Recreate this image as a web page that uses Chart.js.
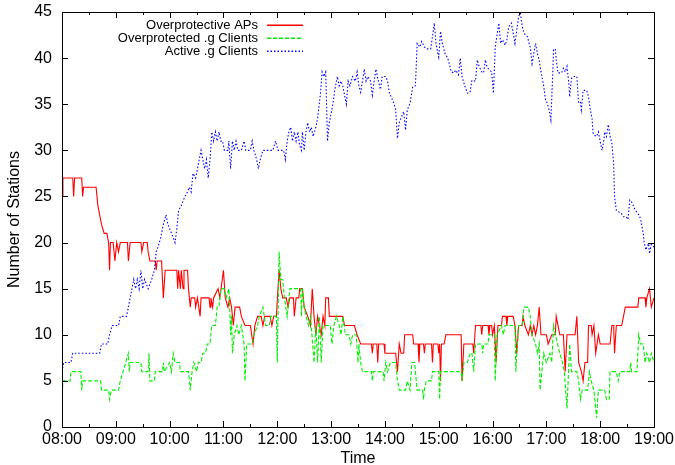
<!DOCTYPE html>
<html>
<head>
<meta charset="utf-8">
<title>Number of Stations</title>
<script src="https://cdn.jsdelivr.net/npm/chart.js@4/dist/chart.umd.min.js"></script>
<style>
  html, body { margin: 0; padding: 0; background: #ffffff; }
  #wrap { width: 675px; height: 465px; }
</style>
</head>
<body>
<div id="wrap"><canvas id="chart" width="675" height="465"></canvas></div>
<script>
// Time axis: minutes after 08:00, one tick per hour
const hourTicks = ['08:00','09:00','10:00','11:00','12:00','13:00','14:00','15:00','16:00','17:00','18:00','19:00'];

// Overprotective APs
const apMinutes = [
  0,1,12,13,14,22,23,24,38,40,
  44,47,50,52,53,54,57,59,61,63,
  65,73,74,76,88,89,91,95,96,98,
  104,105,106,111,113,115,128,129,130,132,
  133,135,136,140,141,143,144,148,149,151,
  154,155,164,165,166,168,169,174,176,180,
  182,185,187,189,191,193,198,200,204,210,
  213,215,218,222,224,226,232,234,236,239,
  242,244,246,250,252,254,258,259,261,264,
  265,268,270,274,277,279,281,283,285,287,
  289,291,293,294,297,298,313,315,326,329,
  333,345,346,347,351,352,353,359,360,372,
  374,376,378,381,382,391,392,394,397,398,
  399,403,404,405,412,413,414,419,420,421,
  422,423,426,428,445,446,448,458,459,461,
  467,468,469,475,476,477,479,480,482,484,
  486,490,491,495,496,497,503,505,507,509,
  513,514,516,520,522,524,526,528,530,532,
  534,540,542,546,550,551,553,555,559,561,
  563,572,574,576,579,581,583,586,587,590,
  591,593,595,598,600,611,613,615,616,618,
  624,626,628,642,643,650,651,652,655,657,
  660
];
const apCounts = [
  25,27,27,25,27,27,25,26,26,24,
  22,21,21,20,17,20,20,18,20,19,
  20,20,18,20,20,19,20,20,19,18,
  18,17,18,18,14,17,17,15,17,15,
  17,15,17,17,15,13,14,14,13,14,
  12,14,14,13,14,13,14,15,14,17,
  14,13,14,13,11,13,13,12,11,11,
  9,11,12,12,11,12,12,11,12,12,
  17,15,14,14,13,14,14,12,14,14,
  15,15,13,12,11,15,12,10,12,11,
  10,12,11,14,14,12,12,11,11,10,
  9,9,8,9,9,7,9,9,8,8,
  6,9,8,8,10,10,9,9,9,7,
  9,9,8,9,9,7,9,9,8,9,
  5,9,9,10,10,5,9,9,8,11,
  11,10,11,11,10,11,11,10,11,7,
  11,11,12,12,11,12,12,11,8,11,
  11,12,11,10,11,10,11,10,11,13,
  10,10,9,10,10,12,11,10,10,6,
  10,10,12,7,6,5,7,7,11,11,
  10,11,8,10,9,9,11,11,8,11,
  11,12,13,13,14,14,13,14,15,13,
  14
];

// Overprotected .g Clients
const protMinutes = [
  0,1,9,10,21,22,23,43,44,52,
  53,55,63,65,68,71,74,75,76,88,
  89,96,97,98,103,104,112,113,114,120,
  122,124,126,131,132,141,143,145,147,150,
  152,155,157,160,162,165,167,171,173,175,
  177,181,183,186,187,188,189,190,192,195,
  197,200,203,204,206,212,214,218,220,224,
  227,231,233,239,240,242,244,246,248,251,
  253,254,266,267,268,270,272,275,277,281,
  283,285,287,289,291,295,299,301,303,306,
  309,311,313,316,320,322,324,328,330,331,
  333,335,345,346,347,358,359,360,361,363,
  366,372,374,376,383,385,388,390,393,394,
  396,402,403,404,406,412,413,420,421,422,
  445,446,448,452,455,457,459,461,468,469,
  470,475,476,482,483,485,490,492,494,505,
  506,507,509,513,515,520,522,524,528,530,
  532,533,535,537,540,544,546,548,550,555,
  558,560,563,566,568,574,576,578,580,586,
  588,590,593,596,598,605,607,610,611,618,
  620,622,633,634,635,641,643,645,648,650,
  652,655,657,660
];
const protCounts = [
  3,5,5,6,6,4,5,5,4,4,
  3,4,4,5,6,7,8,6,7,7,
  6,6,8,5,5,6,6,7,6,7,
  6,8,7,7,6,6,4,6,7,6,
  7,7,8,8,9,9,11,11,13,13,
  15,15,14,15,13,10,12,8,10,11,
  10,11,9,5,9,9,10,11,12,13,
  11,11,12,12,7,19,16,16,14,12,
  14,15,15,12,15,13,12,11,12,7,
  11,7,12,7,11,11,11,9,11,12,
  11,10,12,10,10,9,10,10,7,9,
  7,6,6,5,6,6,5,6,7,6,
  7,7,5,4,4,5,4,7,7,6,
  4,4,3,4,5,5,6,6,3,6,
  6,5,7,7,8,8,6,9,9,8,
  9,9,10,10,5,10,11,10,11,11,
  6,8,11,11,13,13,12,10,9,8,
  9,4,6,8,7,8,7,11,10,8,
  7,6,2,9,6,6,5,3,4,4,
  6,5,4,1,4,4,3,3,6,6,
  5,6,6,7,6,6,10,9,9,7,
  8,7,8,7
];

// Active .g Clients
const activeMinutes = [
  0,2,10,12,42,44,51,53,56,63,
  65,72,74,76,78,80,82,84,86,88,
  90,92,96,100,103,105,107,110,113,116,
  118,120,122,124,126,128,130,133,135,137,
  140,142,144,146,149,151,153,155,157,159,
  161,163,165,167,169,171,173,175,177,179,
  181,185,186,188,190,192,194,196,200,203,
  205,210,212,214,217,219,221,224,228,232,
  235,238,241,244,247,249,251,253,255,257,
  259,261,263,265,267,268,270,272,274,276,
  278,280,283,285,288,290,292,294,296,298,
  300,302,304,307,309,311,313,315,317,319,
  321,324,327,329,331,333,335,337,339,341,
  344,346,348,350,352,355,357,361,363,365,
  367,370,372,374,376,378,381,383,385,388,
  391,394,396,399,401,404,407,411,413,415,
  417,419,420,422,424,427,430,432,434,437,
  439,442,444,446,449,452,455,457,461,463,
  465,468,470,472,474,477,479,481,483,485,
  487,489,491,494,496,498,501,503,505,507,
  509,511,513,515,517,519,521,522,524,526,
  528,530,532,533,535,537,539,541,543,545,
  547,548,550,551,553,557,559,561,563,565,
  566,568,570,574,576,578,579,581,585,587,
  589,591,592,594,596,598,600,602,604,605,
  607,609,611,613,615,616,618,621,624,626,
  629,631,633,635,637,639,641,643,645,646,
  648,649,651,652,654,655,657,660
];
const activeCounts = [
  6,7,7,8,8,9,9,10,11,11,
  12,12,13,14,15,16,15,16,15,17,
  15,16,15,16,17,19,19.5,20.5,22,23,
  22,21.5,21,20.5,20,21.5,23.5,24,24.5,25,
  25.5,26,25.5,27.5,27,28,29,30,29,28,
  29,27,29,32,31,32,31,32,31,31,
  30,30,31,28,31,30,31,30,30,31,
  30,30,31,30,29,28,29,30,30,30,
  30,31,30,30,30,29,31,32,32.5,31,
  32,31,32,30.5,30,32,30,32,33,32,
  32.5,31.5,32.5,33.5,36,38.5,38,38.5,31,33,
  34,35,36.5,38,37,37.5,37,36,35,37.5,
  37,38,37.5,38.5,37,36.3,37.5,38.8,37.5,38,
  37.5,36,37.5,38.8,37.8,36.6,38,38,37.5,36.2,
  35.8,35.1,34.4,31.3,33,33.5,34.2,32.2,34.4,35.1,
  36.9,37,41.6,41.2,41.8,41.2,41,41,42.3,43.8,
  41.6,40.5,40.1,42.9,41.6,40.5,40,39.3,38.5,38.4,
  38.7,38.2,40,38,37,36.2,36.3,37.6,37.5,39.8,
  39.1,38.5,38.4,39.8,39,38.7,38.5,36.2,41.2,42.5,
  43.8,41.6,42,41.4,42,43.4,43.8,42.7,41.6,43,
  44.5,44.9,43.5,42.7,42.5,42.3,41.5,41.2,39.4,40.5,
  41.6,40.5,39.8,39.1,38,37,35.5,35.1,34.4,33.3,
  38,40.9,41,39.8,38.4,38.4,38.9,38.5,39.1,37.3,
  35.8,37.8,38,38,35.1,35.2,34.4,36.5,36.5,35.8,
  34.4,33.4,31.9,31.6,31.5,32,31,30,31,32,
  31.5,32.8,31.5,30.8,28.6,25,23.5,23.3,23.1,22.8,
  22.8,22.5,24.6,24.4,24,23.5,23.3,23,22.6,22,
  21,20,19.2,19.5,19.9,18.8,19.8,19.5
];

const seriesNames = ['Overprotective APs', 'Overprotected .g Clients', 'Active .g Clients'];
const seriesColors = ['#ff0000', '#00ee00', '#0000ff'];
const seriesDashes = [[], [4, 2], [1.5, 2]];

function toPoints(xs, ys) {
  return xs.map((x, i) => ({ x: x, y: ys[i] }));
}

const FONT = '"Liberation Sans", Arial, Helvetica, sans-serif';

// Frame, inward tick marks (mirrored on all four sides) and the key box
const framePlugin = {
  id: 'frameAndKey',
  afterDatasetsDraw(chart) {
    const ctx = chart.ctx;
    const a = chart.chartArea;
    const xs = chart.scales.x;
    const ys = chart.scales.y;
    ctx.save();
    ctx.strokeStyle = '#000000';
    ctx.lineWidth = 1;
    ctx.beginPath();
    // y ticks every 5 stations
    for (let v = 0; v <= 45; v += 5) {
      const py = Math.round(ys.getPixelForValue(v)) + 0.5;
      ctx.moveTo(a.left, py); ctx.lineTo(a.left + 6, py);
      ctx.moveTo(a.right, py); ctx.lineTo(a.right - 6, py);
    }
    // x ticks: hours (major) and half hours (minor)
    for (let m = 0; m <= 660; m += 30) {
      const len = (m % 60 === 0) ? 6 : 3;
      const px = Math.round(xs.getPixelForValue(m)) + 0.5;
      ctx.moveTo(px, a.bottom); ctx.lineTo(px, a.bottom - len);
      ctx.moveTo(px, a.top); ctx.lineTo(px, a.top + len);
    }
    ctx.stroke();
    ctx.strokeRect(Math.round(a.left) + 0.5, Math.round(a.top) + 0.5,
                   Math.round(a.right - a.left), Math.round(a.bottom - a.top));

    // key: right-aligned text with line samples
    ctx.font = '13px ' + FONT;
    ctx.textAlign = 'right';
    ctx.textBaseline = 'middle';
    const textRight = a.left + 196;
    const sampleL = a.left + 205;
    const sampleR = a.left + 241;
    seriesNames.forEach((name, i) => {
      const y = a.top + 12.5 + i * 13.2;
      ctx.fillStyle = '#000000';
      ctx.fillText(name, textRight, y + 0.5);
      ctx.beginPath();
      ctx.strokeStyle = seriesColors[i];
      ctx.lineWidth = 1.5;
      ctx.setLineDash(seriesDashes[i]);
      const yy = Math.round(y) + 0.25;
      ctx.moveTo(sampleL, yy);
      ctx.lineTo(sampleR, yy);
      ctx.stroke();
      ctx.setLineDash([]);
    });
    ctx.restore();
  }
};

new Chart(document.getElementById('chart'), {
  type: 'line',
  data: {
    datasets: [
      {
        label: seriesNames[0],
        data: toPoints(apMinutes, apCounts),
        borderColor: seriesColors[0],
        borderWidth: 1.1,
        borderDash: seriesDashes[0],
        order: 2
      },
      {
        label: seriesNames[1],
        data: toPoints(protMinutes, protCounts),
        borderColor: seriesColors[1],
        borderWidth: 1.1,
        borderDash: seriesDashes[1],
        order: 1
      },
      {
        label: seriesNames[2],
        data: toPoints(activeMinutes, activeCounts),
        borderColor: seriesColors[2],
        borderWidth: 1.1,
        borderDash: seriesDashes[2],
        order: 0
      }
    ]
  },
  options: {
    responsive: false,
    animation: false,
    devicePixelRatio: 1,
    layout: { padding: { left: 0, right: 21, top: 12, bottom: 0 } },
    elements: {
      point: { radius: 0, hoverRadius: 0 },
      line: { tension: 0, fill: false, borderCapStyle: 'butt', borderJoinStyle: 'miter' }
    },
    plugins: {
      legend: { display: false },
      tooltip: { enabled: false },
      title: { display: false }
    },
    scales: {
      x: {
        type: 'linear',
        min: 0,
        max: 660,
        afterFit(scale) {
          scale.height = 38;
          scale.paddingLeft = 0;
          scale.paddingRight = 0;
        },
        afterBuildTicks(scale) {
          scale.ticks = hourTicks.map((_, i) => ({ value: i * 60 }));
        },
        ticks: {
          autoSkip: false,
          maxRotation: 0,
          padding: 3,
          color: '#000000',
          font: { family: FONT, size: 16 },
          callback: (v) => hourTicks[Math.round(v / 60)]
        },
        grid: { display: false, drawTicks: false },
        border: { display: false },
        title: {
          display: true,
          text: 'Time',
          color: '#000000',
          font: { family: FONT, size: 16 },
          padding: { top: 0, bottom: -3 }
        }
      },
      y: {
        type: 'linear',
        min: 0,
        max: 45,
        afterFit(scale) {
          scale.width = 62;
          scale.paddingTop = 0;
          scale.paddingBottom = 0;
        },
        ticks: {
          stepSize: 5,
          padding: 10,
          color: '#000000',
          font: { family: FONT, size: 16 }
        },
        grid: { display: false, drawTicks: false },
        border: { display: false },
        title: {
          display: true,
          text: 'Number of Stations',
          color: '#000000',
          font: { family: FONT, size: 16 },
          padding: { top: 5, bottom: 0 }
        }
      }
    }
  },
  plugins: [framePlugin]
});
</script>
</body>
</html>
